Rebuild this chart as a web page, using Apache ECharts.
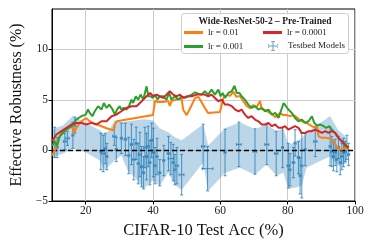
<!DOCTYPE html>
<html>
<head>
<meta charset="utf-8">
<script src="https://cdn.jsdelivr.net/npm/echarts@6/dist/echarts.min.js"></script>
<style>html,body{margin:0;padding:0;background:#fff}#c{width:374px;height:249px}</style>
</head>
<body>
<div id="c"></div>
<script>
// ---- data ----
const xTicks = [20, 40, 60, 80, 100];
const yTicks = [-5, 0, 5, 10];
const legendTitle = 'Wide-ResNet-50-2 \u2013 Pre-Trained';
const seriesNames = ['lr = 0.01', 'lr = 0.001', 'lr = 0.0001', 'Testbed Models'];

const lr001 = [[10.0,-0.5],[10.8,0.0],[11.8,1.1],[12.8,1.7],[13.8,2.0],[14.8,2.2],[15.8,2.6],[16.5,1.7],[17.2,2.2],[18.2,2.7],[19.2,3.0],[20.2,3.2],[21.2,2.9],[22.2,2.7],[23.2,2.6],[24.7,2.4],[26.2,2.2],[28.2,2.0],[28.7,2.6],[29.3,2.9],[40.0,3.5],[40.6,4.9],[41.5,4.8],[43.0,4.8],[44.5,4.9],[45.0,4.4],[45.5,4.9],[46.5,5.0],[47.5,5.1],[48.5,5.1],[49.0,4.0],[50.0,3.5],[50.5,3.6],[51.5,4.5],[52.5,5.2],[53.5,5.3],[54.4,4.8],[55.4,4.2],[56.4,3.7],[58.0,3.75],[59.9,3.8],[60.9,5.2],[61.9,5.5],[62.9,5.4],[63.9,5.8],[64.8,5.3],[65.8,5.4],[66.8,4.9],[67.8,4.4],[68.8,4.2],[69.8,4.5],[70.8,4.3],[71.8,4.9],[72.3,4.1],[73.3,4.0],[74.3,3.8],[75.3,3.6],[76.3,3.3],[77.7,3.7],[78.7,3.5],[79.7,3.5],[80.7,3.4],[81.7,3.5],[82.7,3.3],[83.7,3.0],[84.7,2.8],[85.7,2.7],[86.7,2.5],[87.7,2.3],[88.7,2.3],[89.2,1.4],[90.2,1.25],[91.2,1.25],[92.2,1.2],[93.2,1.1],[94.2,0.6],[95.2,0.1],[96.2,0.1],[97.1,0.4],[98.0,0.1]];

const lr0001 = [[10.0,0.43],[10.8,0.92],[11.5,0.43],[12.3,1.41],[13.3,1.74],[14.3,2.07],[15.8,2.40],[17.2,3.06],[18.7,3.39],[20.0,3.55],[20.7,4.05],[21.2,3.72],[22.0,3.39],[22.7,3.88],[23.7,4.38],[24.7,4.05],[25.4,4.70],[26.2,4.21],[27.0,4.54],[28.0,4.05],[28.7,3.55],[29.3,4.05],[30.1,4.38],[30.6,4.05],[31.3,4.21],[32.1,4.05],[32.9,4.38],[33.6,5.03],[34.1,4.70],[34.9,5.36],[35.6,5.03],[36.3,5.53],[37.1,5.03],[38.1,6.35],[38.6,5.36],[39.3,5.36],[39.9,5.20],[40.6,5.53],[41.3,5.03],[42.0,5.36],[43.0,5.36],[44.0,5.03],[44.8,5.69],[45.5,5.03],[46.5,5.36],[47.5,5.03],[48.5,5.36],[49.5,5.20],[50.5,5.36],[51.5,5.53],[52.5,5.76],[53.5,5.59],[54.4,5.53],[55.4,5.86],[56.4,5.53],[57.4,6.02],[58.4,5.53],[59.4,6.02],[60.1,5.36],[60.7,5.69],[61.4,5.20],[62.4,5.69],[63.4,5.86],[64.2,6.41],[64.9,5.69],[65.7,5.69],[66.3,5.36],[67.3,5.03],[68.3,4.54],[69.3,4.21],[70.3,4.38],[71.3,4.05],[72.3,4.21],[73.3,3.88],[74.3,4.05],[75.3,3.55],[76.3,3.72],[77.3,3.22],[78.8,4.70],[79.5,4.38],[80.2,4.05],[81.2,3.72],[82.2,3.22],[83.2,2.89],[84.2,3.06],[85.2,2.73],[86.2,2.89],[87.2,3.39],[87.9,2.73],[88.7,2.47],[89.7,2.57],[90.7,2.40],[91.4,2.24],[92.4,2.40],[93.1,2.07],[94.1,1.74],[95.1,1.25],[96.1,0.92],[97.1,0.43],[98.1,0.30]];

const lr00001 = [[10.0,0.92],[11.3,1.58],[12.8,1.91],[14.3,2.24],[15.8,2.57],[17.2,2.73],[18.7,2.73],[20.2,2.57],[21.7,2.73],[23.2,2.57],[24.7,2.89],[26.2,2.89],[27.7,3.39],[29.1,3.55],[30.6,3.88],[32.1,4.21],[33.6,4.38],[35.1,4.38],[36.1,4.70],[37.1,5.03],[38.1,5.36],[39.1,5.69],[40.1,5.36],[41.1,5.53],[42.0,5.36],[43.0,5.20],[44.0,5.53],[45.0,5.86],[46.0,5.53],[47.0,5.36],[48.0,5.53],[49.0,5.20],[50.0,5.36],[51.5,5.36],[53.0,5.53],[54.4,5.53],[55.4,5.53],[56.4,5.36],[57.4,5.53],[58.4,5.20],[59.4,4.87],[60.4,5.03],[61.4,4.54],[62.4,4.54],[63.4,4.38],[64.4,4.05],[65.4,3.88],[66.3,4.05],[67.3,3.55],[68.3,3.22],[69.3,3.39],[70.3,3.06],[71.3,2.89],[72.3,2.57],[73.3,2.57],[74.3,2.73],[75.3,2.40],[76.3,2.57],[77.3,2.24],[78.3,2.24],[79.2,2.40],[80.2,2.07],[81.2,2.24],[82.2,2.40],[83.2,2.24],[84.2,1.74],[85.2,1.74],[86.2,1.91],[87.2,1.91],[88.2,2.07],[89.2,1.91],[90.2,1.74],[91.2,1.91],[92.1,1.74],[93.1,1.91],[94.1,1.74],[95.1,1.25],[96.1,0.92],[97.1,0.59],[98.1,0.26]];

// testbed models: [x, y, xErr, yErr]
const testbed = [[10.8,0.8,0.3,1.5],[11.5,0.3,0.3,1.0],[13.8,0.9,0.4,0.8],[14.6,1.2,0.5,0.7],[16.2,1.5,0.3,1.3],[16.8,2.5,0.3,0.8],
[24.5,-0.1,0.3,1.8],[25.2,-0.3,0.5,1.8],[25.8,0.2,0.3,1.5],[26.3,-0.6,0.3,1.3],[28.5,1.4,0.5,0.9],[29.1,0.1,0.3,1.2],[30.6,1.2,0.3,1.5],[31.8,1.1,0.4,1.6],[32.8,-0.5,0.3,1.8],[33.6,0.6,0.3,2.0],[34.3,-0.9,0.4,2.0],[35.0,0.7,0.3,1.6],[35.6,-1.3,0.3,2.0],[36.1,-0.4,0.4,2.2],[36.6,-1.6,0.3,2.0],[37.2,-2.2,0.3,1.6],[37.6,0.3,0.4,2.0],[38.1,-0.6,0.3,2.3],[38.6,0.4,0.3,2.0],[39.1,-1.2,0.3,2.2],[39.6,1.0,0.3,1.7],[40.1,-0.2,0.4,2.4],[40.6,-1.5,0.3,1.8],[41.2,-0.6,0.3,1.8],[42.0,-2.2,0.3,1.3],[43.2,-1.0,0.3,1.5],[44.6,-0.3,0.4,1.7],[45.3,-0.8,0.8,1.6],[46.0,-1.2,0.3,1.8],[46.5,-1.9,0.3,1.5],[47.1,-1.5,0.4,1.8],[48.5,-2.4,0.7,2.0],
[54.9,0.4,0.5,2.2],[56.2,-1.8,1.6,2.2],[61.4,-0.2,0.3,2.3],[65.5,0.6,0.7,2.2],[70.3,-0.1,0.5,2.25],[73.8,0.6,0.6,2.0],[76.6,-0.3,0.5,2.2],[78.5,0.3,0.3,2.0],[80.2,-1.5,0.4,2.2],[80.7,-1.9,0.3,1.6],[81.7,-1.2,0.4,1.5],[82.2,0.75,0.3,1.3],[83.2,-0.7,0.3,1.6],[83.7,-2.5,0.3,1.8],[84.2,-1.5,0.3,3.2],[85.2,0.1,0.3,1.6],[88.2,0.9,0.5,1.5],
[92.6,0.4,0.3,1.9],[93.1,-0.1,0.3,1.5],[93.6,-0.6,0.3,1.4],[94.1,-0.2,0.3,1.3],[94.6,-0.9,0.3,1.2],[95.1,0.3,0.3,1.1],[95.6,-1.2,0.3,1.2],[96.1,-0.6,0.3,1.3],[96.6,-0.2,0.3,1.4],[97.1,-0.1,0.3,1.0],[97.6,0.3,0.3,1.2],[98.1,-0.4,0.3,1.1]];

// confidence band: x, low, high
const bandX  = [10.3,13.3,16.2,17.0,20.2,24.2,25.5,27.0,28.6,30.6,32.5,35.0,37.2,40.0,42.0,44.5,46.5,48.5,54.9,56.4,61.4,65.8,70.3,73.7,76.7,78.7,80.2,82.2,84.2,85.6,89.6,92.6,95.0,97.5];
const bandLo = [-0.7,-0.3,0.2,0.1,-0.2,-1.0,-2.0,-1.5,-1.0,-0.5,-2.0,-2.8,-3.8,-3.0,-3.5,-2.2,-3.4,-3.9,-1.2,-4.0,-2.2,-1.7,-2.4,-1.4,-2.5,-2.2,-3.8,-3.7,-3.5,-1.7,-1.05,-0.6,-1.5,-1.3];
const bandHi = [2.1,2.5,3.4,3.3,2.7,2.0,1.6,2.0,3.0,2.8,2.9,3.0,3.1,3.0,2.2,1.8,1.3,1.0,2.6,0.5,2.2,2.8,2.1,2.6,1.9,2.2,0.6,0.8,1.2,1.75,2.7,3.4,2.0,1.3];

// ---- chart ----
const FONT = 'Liberation Serif';
const errColor = 'rgba(31,119,180,0.7)';
const chart = echarts.init(document.getElementById('c'), null, {renderer: 'canvas'});
const bandData = bandX.map((x, i) => [x, bandLo[i], bandHi[i]]);
const legText = {fontFamily: FONT, fontSize: 9, color: '#222'};

chart.setOption({
  animation: false,
  textStyle: {fontFamily: FONT},
  grid: {left: 52, right: 19, top: 9, bottom: 48, show: true, borderColor: '#000', borderWidth: 1, backgroundColor: 'transparent'},
  xAxis: {
    type: 'value', min: 10, max: 100,
    name: 'CIFAR-10 Test Acc (%)', nameLocation: 'middle', nameGap: 18,
    nameTextStyle: {fontFamily: FONT, fontSize: 16.5, color: '#111'},
    axisLine: {show: true, onZero: false, lineStyle: {color: '#000', width: 1}},
    axisTick: {show: true, length: 3.5, lineStyle: {color: '#000'}, customValues: xTicks},
    axisLabel: {fontFamily: FONT, fontSize: 11.5, color: '#222', margin: 4, customValues: xTicks},
    splitLine: {show: true, lineStyle: {color: '#cccccc', width: 1}}
  },
  yAxis: {
    type: 'value', min: -5, max: 14,
    name: 'Effective Robustness (%)', nameLocation: 'middle', nameGap: 26, nameRotate: 90,
    nameTextStyle: {fontFamily: FONT, fontSize: 16, color: '#111'},
    axisLine: {show: true, onZero: false, lineStyle: {color: '#000', width: 1}},
    axisTick: {show: true, length: 3.5, lineStyle: {color: '#000'}, customValues: yTicks},
    axisLabel: {fontFamily: FONT, fontSize: 11.5, color: '#222', margin: 4, customValues: yTicks,
      formatter: v => String(v).replace('-', '\u2212')},
    splitLine: {show: true, lineStyle: {color: '#cccccc', width: 1}}
  },
  legend: [
    {z: 20, padding: 0, data: [{name: seriesNames[0]}, {name: seriesNames[1]}], orient: 'vertical', left: 184, top: 28,
     itemWidth: 19, itemHeight: 3, itemGap: 5, icon: 'rect', textStyle: legText},
    {z: 20, padding: 0, data: [{name: seriesNames[2]}], orient: 'vertical', left: 263, top: 28,
     itemWidth: 19, itemHeight: 3, icon: 'rect', textStyle: legText},
    {z: 20, padding: 0, data: [{name: seriesNames[3], icon: 'path://M4.5,0H5.5V10H4.5Z M0,4.5H10V5.5H0Z M3,0H7V0.8H3Z M3,9.2H7V10H3Z M0,3V7H0.8V3Z M9.2,3V7H10V3Z'}],
     orient: 'vertical', left: 268, top: 41, itemWidth: 10, itemHeight: 10,
     textStyle: Object.assign({}, legText, {padding: [0, 0, 0, 5]})}
  ],
  graphic: [
    {type: 'rect', left: 181, top: 13, z: 10,
     shape: {width: 167, height: 40, r: 3},
     style: {fill: 'rgba(255,255,255,0.85)', stroke: '#cccccc', lineWidth: 1}},
    {type: 'text', z: 21, x: 265, y: 22,
     style: {text: legendTitle, fontFamily: FONT, fontWeight: 'bold', fontSize: 9.5, fill: '#222', align: 'center', verticalAlign: 'middle'}}
  ],
  series: [
    {
      type: 'custom', name: 'band', silent: true, z: 1,
      data: bandData, encode: {x: 0, y: [1, 2]},
      renderItem: function (params, api) {
        if (params.dataIndex !== 0) return null;
        const upper = bandData.map(d => api.coord([d[0], d[2]]));
        const lower = bandData.slice().reverse().map(d => api.coord([d[0], d[1]]));
        return {type: 'polygon', shape: {points: upper.concat(lower)},
          style: {fill: 'rgba(31,119,180,0.3)', stroke: 'none'}};
      }
    },
    {
      type: 'custom', name: seriesNames[3], z: 2,
      itemStyle: {color: errColor},
      data: testbed, encode: {x: 0, y: 1},
      renderItem: function (params, api) {
        const x = api.value(0), y = api.value(1), xe = api.value(2), ye = api.value(3);
        const a = api.coord([x, y - ye]), b = api.coord([x, y + ye]);
        const l = api.coord([x - xe, y]), r = api.coord([x + xe, y]);
        const cap = 1.5;
        const st = {stroke: errColor, lineWidth: 1.1};
        return {type: 'group', children: [
          {type: 'line', shape: {x1: a[0], y1: a[1], x2: b[0], y2: b[1]}, style: st},
          {type: 'line', shape: {x1: l[0], y1: l[1], x2: r[0], y2: r[1]}, style: st},
          {type: 'line', shape: {x1: a[0] - cap, y1: a[1], x2: a[0] + cap, y2: a[1]}, style: st},
          {type: 'line', shape: {x1: b[0] - cap, y1: b[1], x2: b[0] + cap, y2: b[1]}, style: st},
          {type: 'line', shape: {x1: l[0], y1: l[1] - cap, x2: l[0], y2: l[1] + cap}, style: st},
          {type: 'line', shape: {x1: r[0], y1: r[1] - cap, x2: r[0], y2: r[1] + cap}, style: st}
        ]};
      }
    },
    {
      type: 'line', name: 'zero', silent: true, z: 3, symbol: 'none',
      data: [[10, 0], [100, 0]],
      lineStyle: {color: '#000', width: 1.6, type: [5, 3]}
    },
    {type: 'line', name: seriesNames[0], z: 4, symbol: 'none', data: lr001,
     itemStyle: {color: '#ff7f0e'}, lineStyle: {color: '#ff7f0e', width: 2}},
    {type: 'line', name: seriesNames[1], z: 4, symbol: 'none', data: lr0001,
     itemStyle: {color: '#2ca02c'}, lineStyle: {color: '#2ca02c', width: 2}},
    {type: 'line', name: seriesNames[2], z: 4, symbol: 'none', data: lr00001,
     itemStyle: {color: '#d62728'}, lineStyle: {color: '#d62728', width: 2}}
  ]
});
</script>
</body>
</html>
